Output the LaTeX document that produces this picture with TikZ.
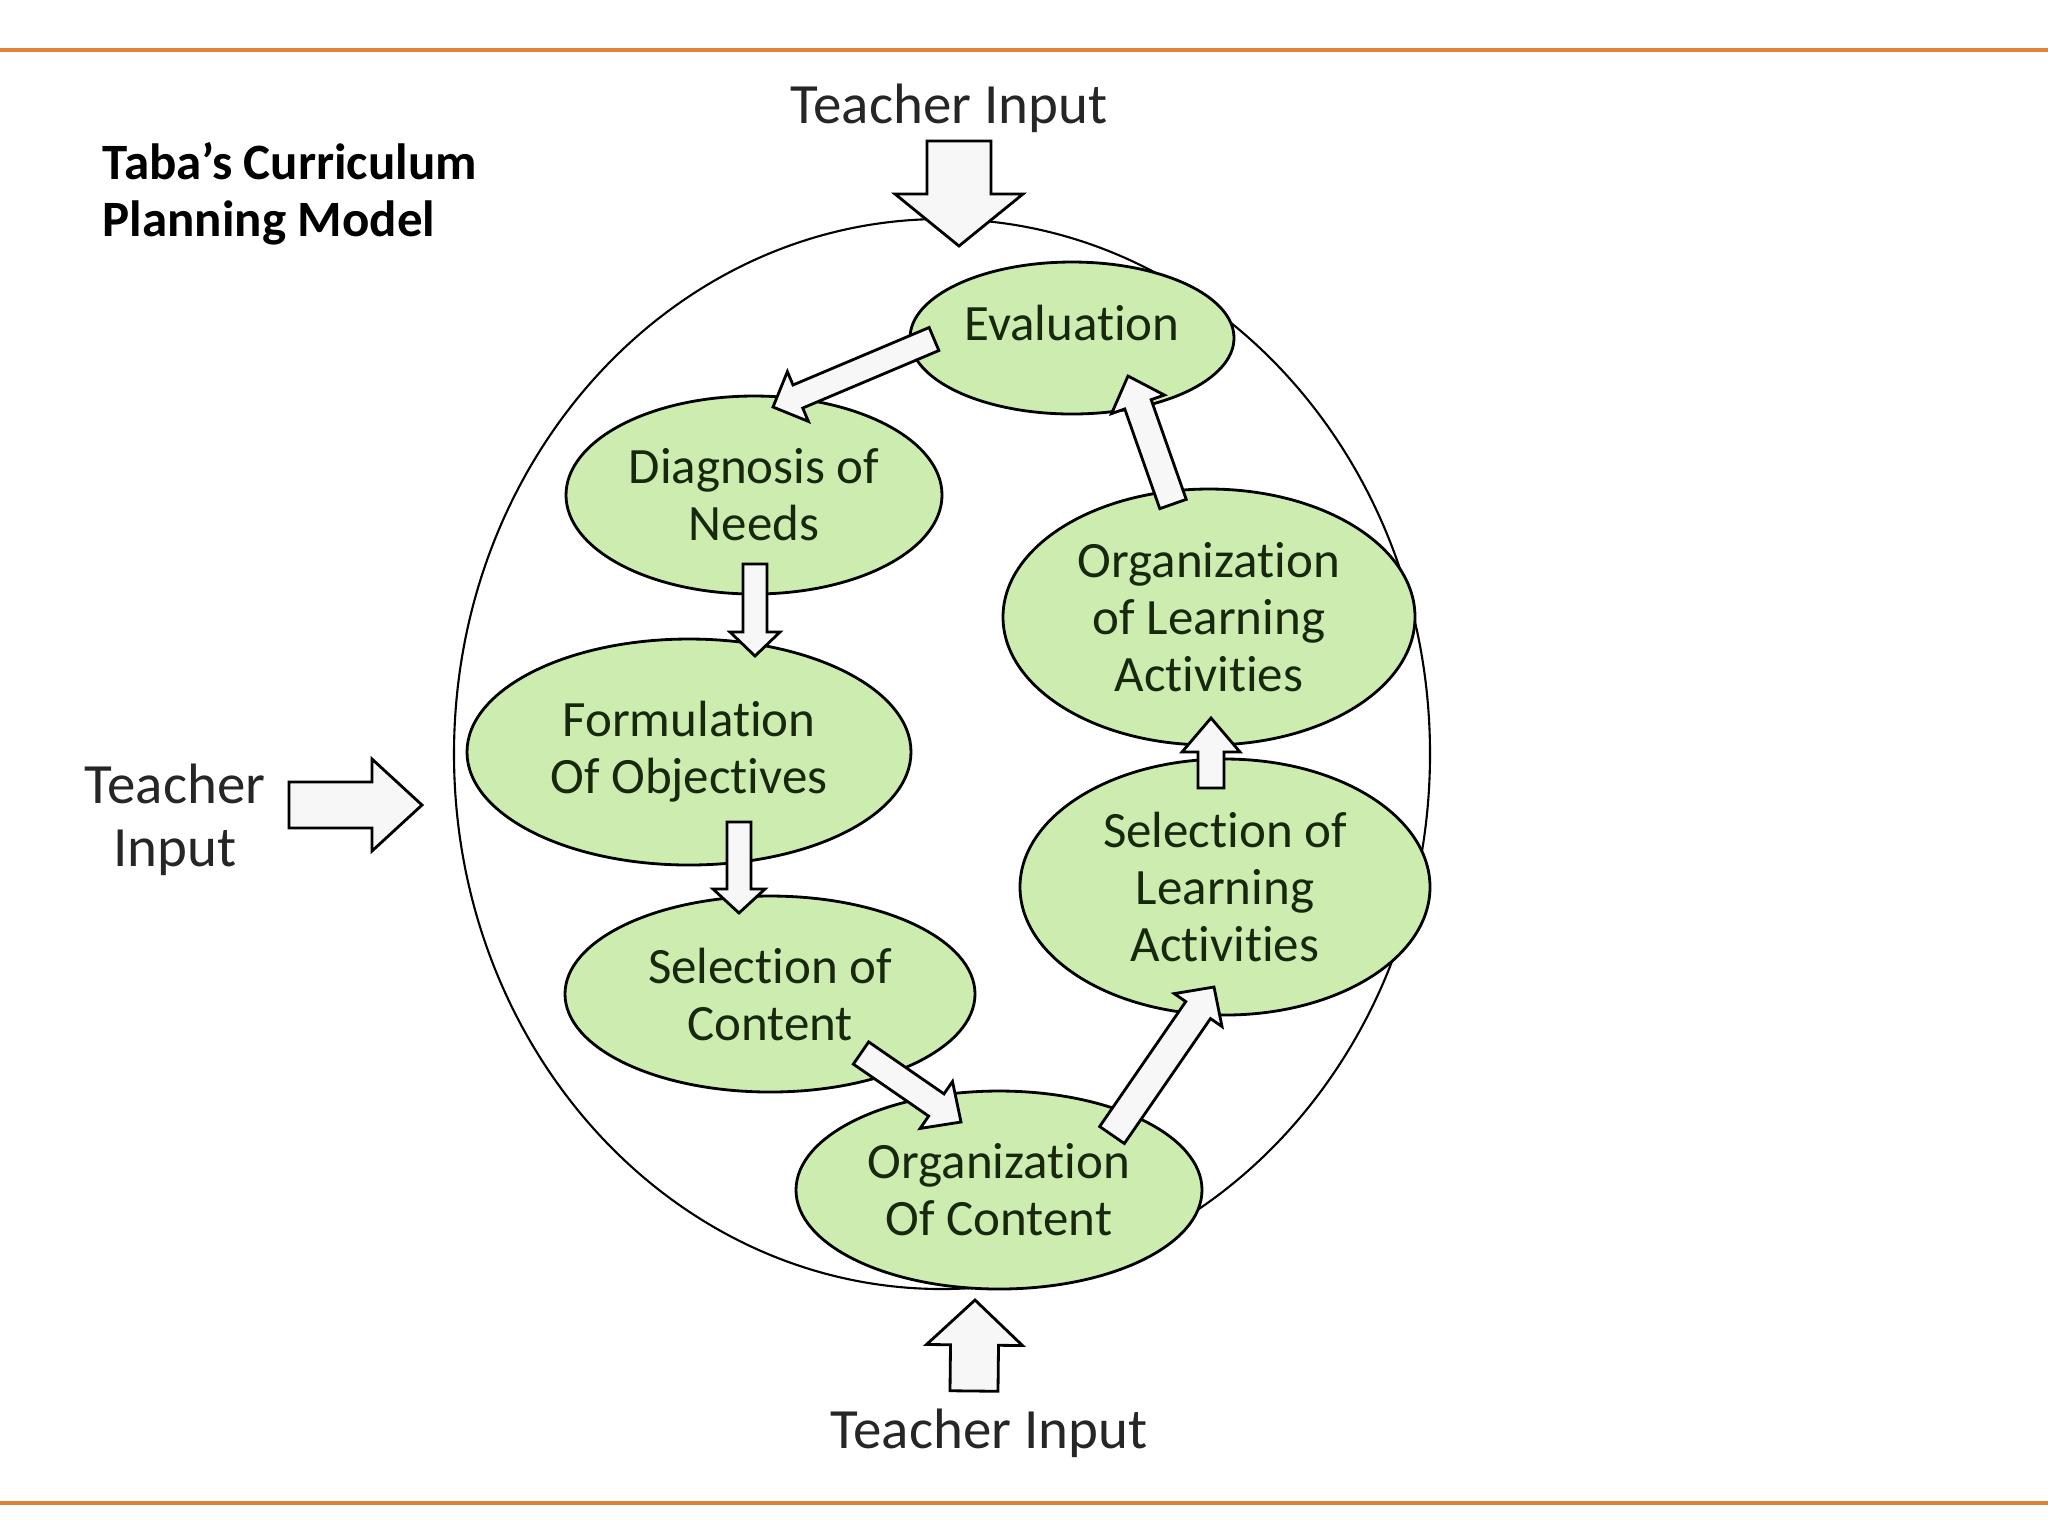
\documentclass[tikz,border=0pt]{standalone}
\usepackage{fontspec}
\setmainfont{Carlito}[Ligatures=NoCommon]
\usetikzlibrary{shapes.geometric,calc}

\definecolor{tabagreen}{RGB}{204,236,176}
\definecolor{tabatext}{RGB}{24,40,14}
\definecolor{ruleorange}{RGB}{222,132,52}

\tikzset{
  stage/.style={ellipse, draw, line width=0.8pt, fill=tabagreen, text=tabatext,
    align=center, inner sep=0pt, font=\fontsize{14.5}{16.2}\selectfont},
  inputtext/.style={inner sep=0pt, align=center, text=black!85,
    font=\fontsize{16.2}{18}\selectfont},
  blockarrow/.style={draw, fill=white!97!black, line width=0.8pt, line join=miter},
}

\newcommand\blockarrow[5]{%
  \coordinate (ba-h) at ($(#2)!#5!(#1)$);
  \filldraw[blockarrow] ($(#1)!#3!90:(#2)$) -- ($(ba-h)!#3!-90:(#1)$)
    -- ($(ba-h)!#4!-90:(#1)$) -- (#2) -- ($(ba-h)!#4!90:(#1)$)
    -- ($(ba-h)!#3!90:(#1)$) -- ($(#1)!#3!-90:(#2)$) -- cycle;}

\begin{document}
\begin{tikzpicture}[x=0.1mm,y=-0.1mm]
  \fill[white] (0,0) rectangle (2048,1536);
  \useasboundingbox (0,0) rectangle (2048,1536);
  \draw[ruleorange, line width=0.9pt] (0,50) -- (2048,50);
  \draw[ruleorange, line width=0.9pt] (0,1503) -- (2048,1503);

  \node[anchor=west, align=left, inner sep=0pt,
    font=\bfseries\fontsize{14.5}{16.2}\selectfont] (title) at (102,194)
    {Taba’s Curriculum\\Planning Model};

  \node[ellipse, draw, line width=0.6pt, minimum width=976*0.1mm,
    minimum height=1070*0.1mm] (ring) at (942,754) {};

  \node[stage, minimum width=32.4mm, minimum height=15.2mm, text depth=3mm]
    (eval) at (1072,338) {Evaluation};
  \foreach \n/\x/\y/\w/\h/\t in {
    diag/754/495/376/198/{Diagnosis of\\Needs},
    form/689/752/444/226/{Formulation\\Of Objectives},
    selc/770/994/410/196/{Selection of\\Content},
    orgc/999/1190/406/198/{Organization\\Of Content},
    sella/1225/887/410/256/{Selection of\\Learning\\Activities},
    orgla/1209/617/412/256/{Organization\\of Learning\\Activities}} {
    \node[stage, minimum width=\w*0.1mm, minimum height=\h*0.1mm] (\n) at (\x,\y) {\t};
  }

  \node[inputtext] (topin) at (949,108) {Teacher Input};
  \node[inputtext] (botin) at (989,1433) {Teacher Input};
  \node[inputtext] (leftin) at (175,820) {Teacher\\Input};

  \foreach \a/\ax/\ay/\b/\bx/\by/\sw/\hw/\hd in {
    eval/-138/1/diag/19/-88/12.5/27/27,
    diag/1/69/form/66/-96/12/25/24,
    form/50/70/selc/-31/-81/12/26/24,
    selc/91/59/orgc/-38/-68/13.5/28.5/30,
    orgc/113/-55/sella/-11/100/15/29/28,
    sella/-14/-99/orgla/2/101/13/29/34,
    orgla/-36/-113/eval/56/38/14/28/30,
    topin/10/33/ring/17/-508/32/64/52,
    botin/-15/-42/ring/33/546/24/48/45,
    leftin/114/-15/ring/-520/51/23/46/50} {
    \coordinate (ba-s) at ($(\a)+(\ax,\ay)$);
    \coordinate (ba-t) at ($(\b)+(\bx,\by)$);
    \blockarrow{ba-s}{ba-t}{\sw*0.1mm}{\hw*0.1mm}{\hd*0.1mm}
  }
\end{tikzpicture}
\end{document}
